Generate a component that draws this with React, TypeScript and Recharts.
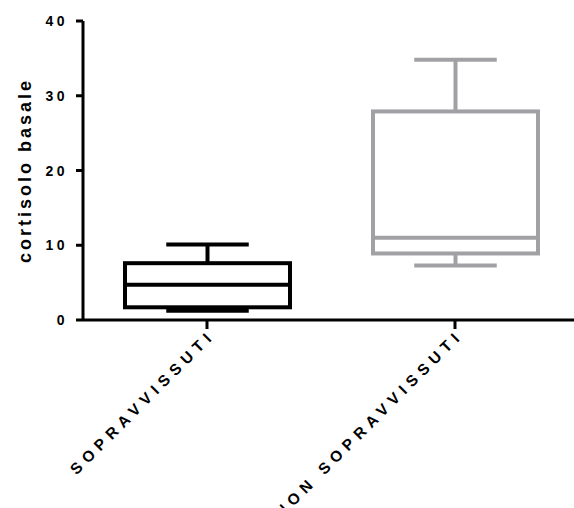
import React from 'react';
import { ComposedChart, Bar, XAxis, YAxis, Label } from 'recharts';

// Five-number summaries for each group
const groups = ['SOPRAVVISSUTI', 'NON SOPRAVVISSUTI'];
const mins = [1.25, 7.3];
const q1s = [1.7, 8.9];
const medians = [4.7, 11.0];
const q3s = [7.6, 27.9];
const maxes = [10.1, 34.8];
const colors = ['#000000', '#a1a1a5'];
const yTicks = [0, 10, 20, 30, 40];

const data = groups.map((name, i) => ({
  name,
  range: [mins[i], maxes[i]],
  min: mins[i],
  q1: q1s[i],
  median: medians[i],
  q3: q3s[i],
  max: maxes[i],
  color: colors[i],
}));

const FONT = '"Liberation Sans", Arial, Helvetica, sans-serif';

// Bar spans min..max; map other stats onto the same pixel range
const BoxShape = (props: any) => {
  const { x, y, width, height, payload } = props;
  const { min, max, q1, median, q3, color } = payload;
  const toY = (v: number) => y + ((max - v) / (max - min)) * height;
  const cx = x + width / 2;
  const capHalf = width / 4;
  const sw = 4;
  return (
    <g stroke={color} strokeWidth={sw} fill="none">
      <line x1={cx} x2={cx} y1={toY(max)} y2={toY(q3)} />
      <line x1={cx} x2={cx} y1={toY(q1)} y2={toY(min)} />
      <line x1={cx - capHalf} x2={cx + capHalf} y1={toY(max)} y2={toY(max)} />
      <line x1={cx - capHalf} x2={cx + capHalf} y1={toY(min)} y2={toY(min)} />
      <rect x={x} y={toY(q3)} width={width} height={toY(q1) - toY(q3)} />
      <line x1={x} x2={x + width} y1={toY(median)} y2={toY(median)} />
    </g>
  );
};

const YTick = (props: any) => {
  const { x, y, payload } = props;
  return (
    <text x={x} y={y} dy={5} textAnchor="end" fontFamily={FONT} fontWeight="bold" fontSize={14} letterSpacing={3.5} fill="#000">
      {payload.value}
    </text>
  );
};

const XTick = (props: any) => {
  const { x, y, payload } = props;
  return (
    <text
      x={x}
      y={y}
      dy={10}
      dx={3}
      textAnchor="end"
      transform={`rotate(-45, ${x}, ${y})`}
      fontFamily={FONT}
      fontWeight="bold"
      fontSize={15.5}
      letterSpacing={5.6}
      fill="#000"
    >
      {payload.value}
    </text>
  );
};

export default function App() {
  return (
    <div style={{ position: 'absolute', left: 0, top: 0, width: 574, height: 508, overflow: 'hidden', background: '#fff' }}>
      <ComposedChart width={579} height={508} data={data} margin={{ top: 21, right: 0, bottom: 158, left: 0 }} barSize={165}>
        <XAxis
          dataKey="name"
          height={30}
          axisLine={{ stroke: '#000', strokeWidth: 3 }}
          tickLine={{ stroke: '#000', strokeWidth: 3 }}
          tickSize={9}
          tick={<XTick />}
          interval={0}
        />
        <YAxis
          domain={[0, 40]}
          ticks={yTicks}
          width={83}
          axisLine={{ stroke: '#000', strokeWidth: 3 }}
          tickLine={{ stroke: '#000', strokeWidth: 3 }}
          tickSize={7}
          tickMargin={8}
          tick={<YTick />}
        >
          <Label
            content={({ viewBox }: any) => {
              const cx = viewBox.x + 25;
              const cy = viewBox.y + viewBox.height / 2;
              return (
                <text
                  x={cx}
                  y={cy}
                  transform={`rotate(-90, ${cx}, ${cy})`}
                  textAnchor="middle"
                  dominantBaseline="central"
                  fontFamily={FONT}
                  fontWeight="bold"
                  fontSize={18}
                  letterSpacing={3}
                  fill="#000"
                >
                  cortisolo basale
                </text>
              );
            }}
          />
        </YAxis>
        <Bar dataKey="range" shape={<BoxShape />} isAnimationActive={false} />
      </ComposedChart>
    </div>
  );
}
